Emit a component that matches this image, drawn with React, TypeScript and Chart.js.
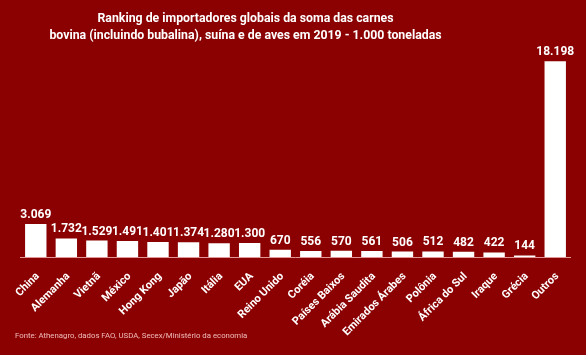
import React, { useEffect, useRef } from "react";
import { Chart, registerables } from "chart.js";

Chart.register(...registerables);

const titleLines = [
  "Ranking de importadores globais da soma das carnes",
  "bovina (incluindo bubalina), suína e de aves em 2019 - 1.000 toneladas",
];
const footerText = "Fonte: Athenagro, dados FAO, USDA, Secex/Ministério da economia";

const categories = [
  "China", "Alemanha", "Vietnã", "México", "Hong Kong", "Japão", "Itália", "EUA",
  "Reino Unido", "Coréia", "Países Baixos", "Arábia Saudita", "Emirados Árabes",
  "Polônia", "África do Sul", "Iraque", "Grécia", "Outros",
];
const values = [3069, 1732, 1529, 1491, 1401, 1374, 1280, 1300, 670, 556, 570, 561, 506, 512, 482, 422, 144, 18198];

const BG = "#8B0000";
const FONT = "Roboto, 'Noto Sans', sans-serif";

function fmt(v: number): string {
  return String(v).replace(/\B(?=(\d{3})+(?!\d))/g, ".");
}

const bgPlugin = {
  id: "bgPlugin",
  beforeDraw(chart: any) {
    const { ctx, width, height } = chart;
    ctx.save();
    ctx.fillStyle = BG;
    ctx.fillRect(0, 0, width, height);
    ctx.restore();
  },
  afterDraw(chart: any) {
    const { ctx } = chart;
    ctx.save();
    ctx.fillStyle = "#ffffff";
    ctx.textAlign = "center";
    ctx.textBaseline = "middle";
    ctx.font = `bold 12.3px ${FONT}`;
    ctx.fillText(titleLines[0], 245.5, 19);
    ctx.fillText(titleLines[1], 245.5, 36);
    ctx.textAlign = "left";
    ctx.font = `7.8px ${FONT}`;
    ctx.fillStyle = "rgba(255,215,215,0.85)";
    ctx.fillText(footerText, 15, 336);
    ctx.restore();
  },
};

const labelPlugin = {
  id: "labelPlugin",
  afterDatasetsDraw(chart: any) {
    const { ctx } = chart;
    const meta = chart.getDatasetMeta(0);
    ctx.save();
    ctx.fillStyle = "#ffffff";
    ctx.textAlign = "center";
    ctx.textBaseline = "bottom";
    ctx.font = `bold 12px ${FONT}`;
    meta.data.forEach((bar: any, i: number) => {
      ctx.fillText(fmt(values[i]), bar.x, bar.y - 3);
    });
    ctx.restore();
  },
};

export default function App() {
  const ref = useRef<HTMLCanvasElement>(null);
  useEffect(() => {
    if (!ref.current) return;
    const chart = new Chart(ref.current, {
      type: "bar",
      data: {
        labels: categories,
        datasets: [
          {
            data: values,
            backgroundColor: "#ffffff",
            barPercentage: 0.7,
            categoryPercentage: 1,
          },
        ],
      },
      options: {
        responsive: false,
        animation: false,
        layout: { padding: { top: 42, left: 20.5, right: 15.5, bottom: 0 } },
        plugins: {
          legend: { display: false },
          tooltip: { enabled: false },
          title: { display: false },
        },
        scales: {
          x: {
            grid: { display: false },
            border: { display: true, color: "rgba(255,200,200,0.75)", width: 1 },
            afterFit: (scale: any) => {
              scale.height = 98;
            },
            ticks: {
              color: "#ffffff",
              font: { family: FONT, size: 11, weight: "bold" },
              minRotation: 45,
              maxRotation: 45,
              autoSkip: false,
              padding: 5,
              labelOffset: 2,
            },
          },
          y: {
            display: false,
            min: 0,
            max: 20000,
          },
        },
      },
      plugins: [bgPlugin, labelPlugin],
    });
    return () => chart.destroy();
  }, []);
  return (
    <div style={{ position: "absolute", left: 0, top: 0, width: 586, height: 355, background: BG }}>
      <canvas ref={ref} width={586} height={355} />
    </div>
  );
}
